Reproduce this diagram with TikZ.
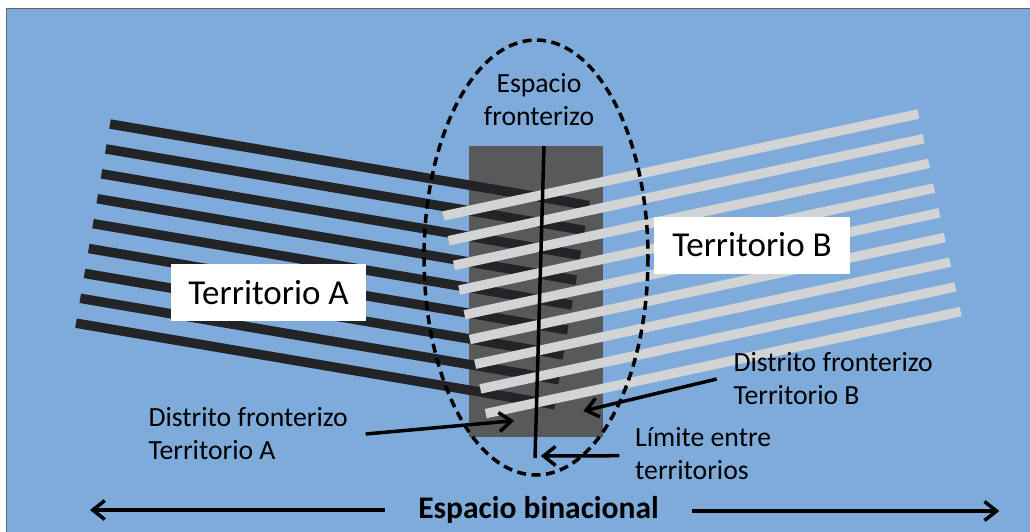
\documentclass[tikz,border=0pt]{standalone}
\usepackage{fontspec}
\setmainfont{Carlito}
\usetikzlibrary{arrows.meta}
\definecolor{bgblue}{RGB}{127,171,219}
\definecolor{darkbar}{RGB}{35,36,39}
\definecolor{lightbar}{RGB}{209,211,213}
\definecolor{zonegray}{RGB}{88,89,91}
\definecolor{framegray}{RGB}{95,105,118}
\begin{document}
\begin{tikzpicture}[x=1pt,y=-1pt,
  darkline/.style={draw=darkbar,line width=9.5pt},
  lightline/.style={draw=lightbar,line width=9.5pt},
  arr/.style={line width=3.5pt,-{Straight Barb[length=12pt,width=19pt]}},
  lbl/.style={font=\fontsize{27.7}{33}\selectfont, inner sep=0pt},
  tbox/.style={fill=white, inner sep=0pt, font=\fontsize{35}{40}\selectfont, minimum height=57pt}]
\useasboundingbox (0,0) rectangle (1030,531);
\fill[white] (0,0) rectangle (1030,531);
\draw[fill=bgblue, draw=framegray, line width=1pt] (6.5,8.5) rectangle (1040,540);
% border district zone
\fill[zonegray] (469.3,146) rectangle (602.7,437.3);
% territory A bars
\foreach \i in {0,...,8} \draw[darkline] (110-4.25*\i,124+24.9*\i) -- ++(479,81.5);
% territory B bars
\foreach \i in {0,...,8} \draw[lightline] (443.3+5.3*\i,216+24.7*\i) -- ++(475,-102);
% limit line
\coordinate (limTop) at (544,146);
\coordinate (limBot) at (535,458);
\draw[line width=3.5pt] (limTop) -- (limBot);
% border space ellipse
\draw[line width=3.5pt, dash pattern=on 9pt off 5.5pt] (536,257.5) ellipse [x radius=112, y radius=217.5];
% territory boxes
\node[tbox, minimum width=195pt] (terA) at (268.5,292.5) {Territorio A};
\node[tbox, minimum width=196pt] (terB) at (752,245) {Territorio B};
% labels
\node[lbl, anchor=base] (espF) at (539,92.7) {\begin{tabular}[t]{@{}c@{}}Espacio\\fronterizo\end{tabular}};
\node[lbl, anchor=base west] (dfB) at (733.3,371.7) {\begin{tabular}[t]{@{}l@{}}Distrito fronterizo\\Territorio B\end{tabular}};
\node[lbl, anchor=base west] (dfA) at (148.3,426) {\begin{tabular}[t]{@{}l@{}}Distrito fronterizo\\Territorio A\end{tabular}};
\node[lbl, anchor=base west] (lim) at (635,446.7) {\begin{tabular}[t]{@{}l@{}}Límite entre\\territorios\end{tabular}};
\node[font=\fontsize{31.5}{36}\selectfont\bfseries, inner sep=0pt, anchor=base] (binac) at (538.5,518.3) {Espacio binacional};
% arrows
\coordinate (aB1) at (716.7,379); \coordinate (aB2) at (583.3,411);
\coordinate (aA1) at (365.7,434); \coordinate (aA2) at (514,420.7);
\coordinate (aL1) at (619.3,455.7); \coordinate (aL2) at (540.7,456);
\coordinate (bL1) at (385.4,510); \coordinate (bL2) at (90,510);
\coordinate (bR1) at (691.7,511); \coordinate (bR2) at (999.3,511);
\draw[arr] (aB1) -- (aB2);
\draw[arr] (aA1) -- (aA2);
\draw[arr] (aL1) -- (aL2);
\draw[arr] (bL1) -- (bL2);
\draw[arr] (bR1) -- (bR2);
\end{tikzpicture}
\end{document}
